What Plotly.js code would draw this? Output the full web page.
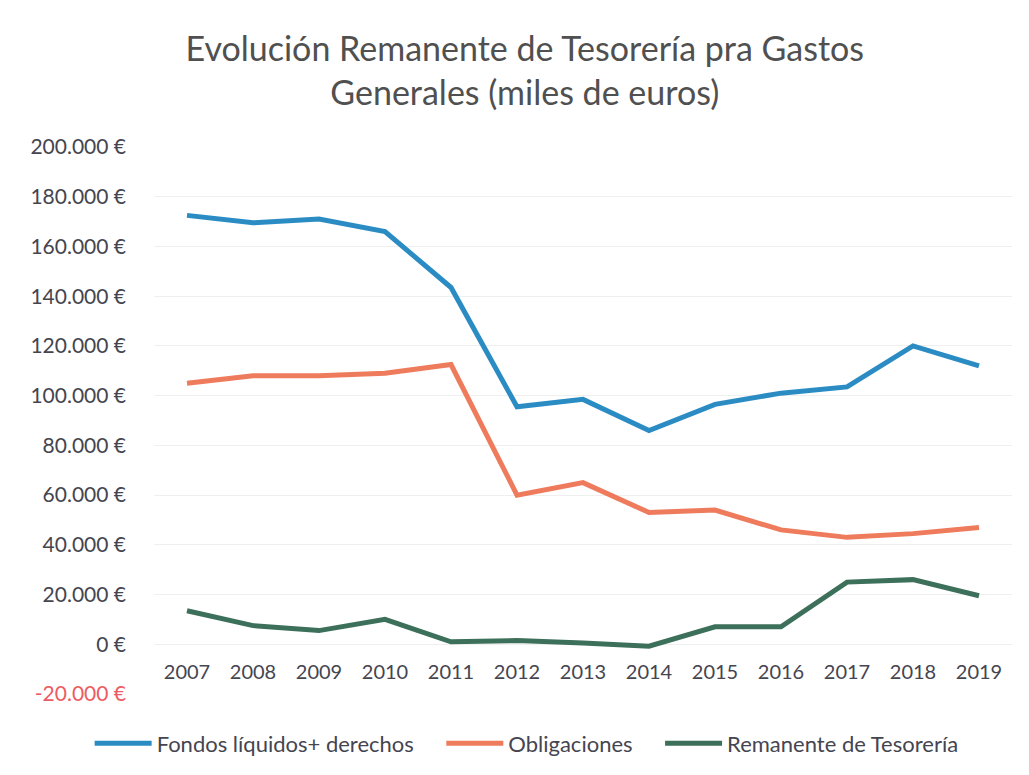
<!DOCTYPE html>
<html><head><meta charset="utf-8">
<script src="https://cdn.plot.ly/plotly-3.0.1.min.js"></script>
<style>html,body{margin:0;padding:0;background:#fff}</style>
</head><body>
<div id="chart" style="width:1029px;height:775px"></div>
<script>
const years = ['2007','2008','2009','2010','2011','2012','2013','2014','2015','2016','2017','2018','2019'];
const fondos = [172500,169500,171000,166000,143500,95500,98500,86000,96500,101000,103500,120000,112000];
const obligaciones = [105000,108000,108000,109000,112500,60000,65000,53000,54000,46000,43000,44500,47000];
const remanente = [13500,7500,5500,10000,1000,1500,500,-800,7000,7000,25000,26000,19500];
const seriesNames = ['Fondos líquidos+ derechos', 'Obligaciones', 'Remanente de Tesorería'];
const yTickVals = [-20000,0,20000,40000,60000,80000,100000,120000,140000,160000,180000,200000];
const yTickText = ['<span style="color:#ec5c62">-20.000 €</span>','0 €','20.000 €','40.000 €','60.000 €','80.000 €','100.000 €','120.000 €','140.000 €','160.000 €','180.000 €','200.000 €'];

const yMin = -20000, yMax = 200000;
const xPos = (0 - yMin) / (yMax - yMin);
const pad = '\u00a0\u00a0\u00a0\u00a0';

const traces = [
  {x: years, y: fondos, name: seriesNames[0] + pad, type: 'scatter', mode: 'lines', line: {color: '#2b8cc4', width: 5}},
  {x: years, y: obligaciones, name: seriesNames[1] + pad, type: 'scatter', mode: 'lines', line: {color: '#ef7b5d', width: 5}},
  {x: years, y: remanente, name: seriesNames[2], type: 'scatter', mode: 'lines', line: {color: '#3d705a', width: 5}}
];

const layout = {
  width: 1029, height: 775,
  margin: {l: 154, r: 17, t: 147, b: 80},
  paper_bgcolor: '#fff', plot_bgcolor: '#fff',
  font: {family: 'Lato, "Open Sans", sans-serif', color: '#454550', size: 21},
  title: {text: 'Evolución Remanente de Tesorería pra Gastos<br>Generales (miles de euros)', x: 0.51, xanchor: 'center', y: 0.921, yanchor: 'top', font: {size: 34, color: '#505050'}},
  xaxis: {type: 'category', anchor: 'free', position: xPos, showline: false, showgrid: false, zeroline: false, ticks: '', range: [-0.5, 12.5], tickfont: {size: 20, color: '#454550'}, ticklabelstandoff: 14},
  yaxis: {range: [yMin, yMax], tickvals: yTickVals, ticktext: yTickText, showgrid: true, gridcolor: '#efefef', gridwidth: 1, zeroline: false, showline: false, ticks: '', ticklabelstandoff: 27, tickfont: {size: 21, color: '#454550'}},
  legend: {orientation: 'h', x: -0.075, xanchor: 'left', y: -0.05, yanchor: 'top', font: {size: 22, color: '#454550'}, itemwidth: 57, tracegroupgap: 0}
};

Plotly.newPlot('chart', traces, layout, {displayModeBar: false});
</script>
</body></html>
